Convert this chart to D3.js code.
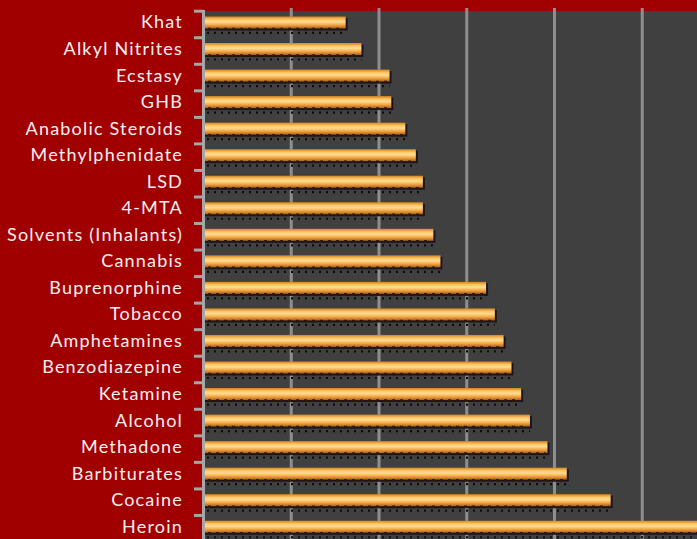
<!DOCTYPE html>
<html>
<head>
<meta charset="utf-8">
<script src="https://cdn.jsdelivr.net/npm/d3@7"></script>
<style>
  html, body { margin: 0; padding: 0; background: #a00000; }
  svg { display: block; }
</style>
</head>
<body>
<div class="bar-chart"></div>
<script>
// Categories (top to bottom) and mean harm scores
var drugs = ['Khat', 'Alkyl Nitrites', 'Ecstasy', 'GHB', 'Anabolic Steroids',
	'Methylphenidate', 'LSD', '4-MTA', 'Solvents (Inhalants)', 'Cannabis',
	'Buprenorphine', 'Tobacco', 'Amphetamines', 'Benzodiazepine', 'Ketamine',
	'Alcohol', 'Methadone', 'Barbiturates', 'Cocaine', 'Heroin'];
var harm = [0.81, 0.90, 1.06, 1.07, 1.15,
	1.21, 1.25, 1.25, 1.31, 1.35,
	1.61, 1.66, 1.71, 1.755, 1.81,
	1.86, 1.96, 2.07, 2.32, 2.85];
var gridTicks = [0.5, 1, 1.5, 2, 2.5];

var bgRed = '#a00000',
	plotGrey = '#404040',
	gridGrey = '#8e8e8e',
	labelColor = '#fbeef0';

var width = 697, height = 539;
var plotTop = 11;

var x = d3.scaleLinear().domain([0, 3]).range([203.5, 730]);
var y = d3.scaleBand().domain(drugs).range([9.2, 540]).paddingInner(0);

var svg = d3.select('.bar-chart').append('svg')
	.attr('width', width)
	.attr('height', height);

var defs = svg.append('defs');
var grad = defs.append('linearGradient')
	.attr('id', 'barFill')
	.attr('x1', 0).attr('y1', 0).attr('x2', 0).attr('y2', 1);
[['0%', '#d4821f'], ['25%', '#fcc665'], ['45%', '#ffdc92'], ['72%', '#f2a440'], ['100%', '#ad5e14']]
	.forEach(function(s) {
		grad.append('stop').attr('offset', s[0]).attr('stop-color', s[1]);
	});
defs.append('clipPath').attr('id', 'plotClip')
	.append('rect')
	.attr('x', 205).attr('y', plotTop)
	.attr('width', width - 205).attr('height', height - plotTop);

// background + plot area
svg.append('rect').attr('width', width).attr('height', height).attr('fill', bgRed);
svg.append('rect')
	.attr('x', 205).attr('y', plotTop)
	.attr('width', width - 205).attr('height', height - plotTop)
	.attr('fill', plotGrey);

// vertical gridlines
svg.append('g').selectAll('line')
	.data(gridTicks)
	.join('line')
	.attr('x1', function(d) { return x(d); })
	.attr('x2', function(d) { return x(d); })
	.attr('y1', 8)
	.attr('y2', height)
	.attr('stroke', gridGrey)
	.attr('stroke-width', 3);

// bars
var bars = svg.append('g').attr('clip-path', 'url(#plotClip)')
	.selectAll('g')
	.data(drugs)
	.join('g')
	.attr('transform', function(d) { return 'translate(0,' + (y(d) + y.bandwidth() / 2 - 6) + ')'; });

var x0 = x(0) + 1.5;
// dotted shadow row
bars.append('line')
	.attr('x1', x0 + 2)
	.attr('x2', function(d, i) { return x(harm[i]); })
	.attr('y1', 16.5).attr('y2', 16.5)
	.attr('stroke', '#0c0c0c')
	.attr('stroke-width', 2.2)
	.attr('stroke-dasharray', '2,5');
// right-edge shadow
bars.append('rect')
	.attr('x', x0)
	.attr('y', 1.5)
	.attr('width', function(d, i) { return x(harm[i]) - x0 + 2; })
	.attr('height', 12.5)
	.attr('fill', '#1c1422');
bars.append('rect')
	.attr('x', x0)
	.attr('y', 0)
	.attr('width', function(d, i) { return x(harm[i]) - x0; })
	.attr('height', 12)
	.attr('fill', 'url(#barFill)');
// jagged lower edge
bars.append('line')
	.attr('x1', x0 + 3)
	.attr('x2', function(d, i) { return x(harm[i]) - 2; })
	.attr('y1', 12.5).attr('y2', 12.5)
	.attr('stroke', '#2a1a0c')
	.attr('stroke-width', 2.5)
	.attr('stroke-dasharray', '3,5');

// y axis with ticks between categories
var axisG = svg.append('g');
axisG.append('line')
	.attr('x1', x(0)).attr('x2', x(0))
	.attr('y1', 10).attr('y2', height)
	.attr('stroke', '#a6a6a6')
	.attr('stroke-width', 3);
axisG.selectAll('line.tick')
	.data(drugs)
	.join('line')
	.attr('class', 'tick')
	.attr('x1', 194).attr('x2', x(0))
	.attr('y1', function(d) { return y(d) + 2; })
	.attr('y2', function(d) { return y(d) + 2; })
	.attr('stroke', '#a6a6a6')
	.attr('stroke-width', 3);

// category labels
svg.append('g').selectAll('text')
	.data(drugs)
	.join('text')
	.attr('x', 183)
	.attr('y', function(d) { return y(d) + y.bandwidth() / 2 - 1; })
	.attr('text-anchor', 'end')
	.attr('dominant-baseline', 'central')
	.attr('font-family', 'Lato, sans-serif')
	.attr('font-size', '18px')
	.attr('letter-spacing', '1.2px')
	.attr('fill', labelColor)
	.text(function(d) { return d; });
</script>
</body>
</html>
